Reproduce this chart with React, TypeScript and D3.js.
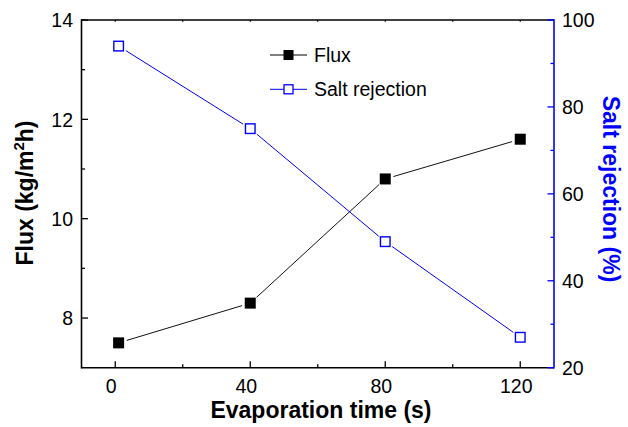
import React from "react";
import * as d3 from "d3";

const times = [1, 40, 80, 120];
const fluxValues = [7.5, 8.3, 10.8, 11.6];
const rejectionValues = [94, 75, 49, 27];
const xMajorTicks = [0, 40, 80, 120];
const xMinorTicks = [20, 60, 100];
const fluxMajorTicks = [8, 10, 12, 14];
const fluxMinorTicks = [9, 11, 13];
const rejMajorTicks = [20, 40, 60, 80, 100];
const rejMinorTicks = [30, 50, 70, 90];
const seriesNames = ["Flux", "Salt rejection"];

const W = 628;
const H = 427;
const L = 81.5;
const R = 554;
const T = 20;
const B = 367.7;
const BLUE = "#0000ff";
const FONT = "'Liberation Sans', Arial, Helvetica, sans-serif";

const x = d3.scaleLinear().domain([-10, 130]).range([L, R]);
const yL = d3.scaleLinear().domain([7, 14]).range([B, T]);
const yR = d3.scaleLinear().domain([20, 100]).range([B, T]);

function segments(pts: [number, number][], gap: number) {
  const out: string[] = [];
  for (let i = 0; i < pts.length - 1; i++) {
    const [x1, y1] = pts[i];
    const [x2, y2] = pts[i + 1];
    const dx = x2 - x1, dy = y2 - y1;
    const len = Math.hypot(dx, dy);
    const ux = dx / len, uy = dy / len;
    const a: [number, number] = [x1 + ux * gap, y1 + uy * gap];
    const b: [number, number] = [x2 - ux * gap, y2 - uy * gap];
    out.push(d3.line()([a, b]) as string);
  }
  return out;
}

export default function App() {
  const fluxPts: [number, number][] = times.map((t, i) => [x(t), yL(fluxValues[i])]);
  const rejPts: [number, number][] = times.map((t, i) => [x(t), yR(rejectionValues[i])]);
  const ms = 11;
  const major = 6.5;
  const minor = 3.5;
  const tickFs = 19.5;
  const titleFs = 23;

  return (
    <svg
      width={W}
      height={H}
      style={{ position: "absolute", left: 0, top: 0, background: "#fff" }}
      fontFamily={FONT}
    >
      <rect x={0} y={0} width={W} height={H} fill="#fff" />

      {/* data lines */}
      {segments(fluxPts, 8.5).map((d, i) => (
        <path key={"fl" + i} d={d} stroke="#111" strokeWidth={1} fill="none" />
      ))}
      {segments(rejPts, 8.5).map((d, i) => (
        <path key={"rl" + i} d={d} stroke={BLUE} strokeWidth={1} fill="none" />
      ))}

      {/* markers */}
      {fluxPts.map(([px, py], i) => (
        <rect key={"fm" + i} x={px - ms / 2} y={py - ms / 2} width={ms} height={ms} fill="#000" />
      ))}
      {rejPts.map(([px, py], i) => (
        <rect
          key={"rm" + i}
          x={px - (ms - 1.4) / 2}
          y={py - (ms - 1.4) / 2}
          width={ms - 1.4}
          height={ms - 1.4}
          fill="#fff"
          stroke={BLUE}
          strokeWidth={1.4}
        />
      ))}

      {/* frame */}
      <line x1={L} y1={T} x2={R} y2={T} stroke="#000" strokeWidth={1.6} />
      <line x1={L} y1={B} x2={R} y2={B} stroke="#000" strokeWidth={1.6} />
      <line x1={L} y1={T - 0.8} x2={L} y2={B + 0.8} stroke="#000" strokeWidth={1.6} />
      <line x1={R} y1={T - 0.8} x2={R} y2={B + 0.8} stroke={BLUE} strokeWidth={1.6} />

      {/* bottom ticks */}
      {xMajorTicks.map((t) => (
        <g key={"xb" + t}>
          <line x1={x(t)} x2={x(t)} y1={B} y2={B - major} stroke="#000" strokeWidth={1.3} />
          <line x1={x(t)} x2={x(t)} y1={T} y2={T + 1.8} stroke="#000" strokeWidth={1.2} />
          <text x={x(t) - 4} y={393} textAnchor="middle" fontSize={tickFs} fill="#000">
            {t}
          </text>
        </g>
      ))}
      {xMinorTicks.map((t) => (
        <g key={"xm" + t}>
          <line x1={x(t)} x2={x(t)} y1={B} y2={B - minor} stroke="#000" strokeWidth={1.3} />
          <line x1={x(t)} x2={x(t)} y1={T} y2={T + 1.8} stroke="#000" strokeWidth={1.2} />
        </g>
      ))}

      {/* left ticks */}
      {fluxMajorTicks.map((t) => (
        <g key={"yl" + t}>
          <line x1={L} x2={L + major} y1={yL(t)} y2={yL(t)} stroke="#000" strokeWidth={1.3} />
          <text x={73} y={yL(t) + 7.3} textAnchor="end" fontSize={tickFs} fill="#000">
            {t}
          </text>
        </g>
      ))}
      {fluxMinorTicks.map((t) => (
        <line key={"ylm" + t} x1={L} x2={L + minor} y1={yL(t)} y2={yL(t)} stroke="#000" strokeWidth={1.3} />
      ))}

      {/* right ticks */}
      {rejMajorTicks.map((t) => (
        <g key={"yr" + t}>
          <line x1={R} x2={R - major} y1={yR(t)} y2={yR(t)} stroke={BLUE} strokeWidth={1.3} />
          <text x={562} y={yR(t) + 7.3} textAnchor="start" fontSize={tickFs} fill="#000">
            {t}
          </text>
        </g>
      ))}
      {rejMinorTicks.map((t) => (
        <line key={"yrm" + t} x1={R} x2={R - minor} y1={yR(t)} y2={yR(t)} stroke={BLUE} strokeWidth={1.3} />
      ))}

      {/* axis titles */}
      <text x={321} y={418} textAnchor="middle" fontSize={titleFs} fontWeight="bold" fill="#000">
        Evaporation time (s)
      </text>
      <text
        transform={`translate(33.3,193) rotate(-90)`}
        textAnchor="middle"
        fontSize={titleFs}
        fontWeight="bold"
        fill="#000"
      >
        Flux (kg/m<tspan fontSize={titleFs * 0.65} dy={-9}>2</tspan>
        <tspan dy={9}>h)</tspan>
      </text>
      <text
        transform={`translate(603,189) rotate(90)`}
        textAnchor="middle"
        fontSize={titleFs}
        fontWeight="bold"
        fill={BLUE}
      >
        Salt rejection (%)
      </text>

      {/* legend */}
      <g>
        <line x1={270} x2={307} y1={55} y2={55} stroke="#000" strokeWidth={1} />
        <rect x={288.5 - 5} y={55 - 5} width={10} height={10} fill="#000" />
        <text x={314} y={55 + 7} fontSize={tickFs} fill="#000">
          {seriesNames[0]}
        </text>
        <line x1={270} x2={307} y1={89.3} y2={89.3} stroke={BLUE} strokeWidth={1} />
        <rect x={288.5 - 4.5} y={89.3 - 4.5} width={9} height={9} fill="#fff" stroke={BLUE} strokeWidth={1.3} />
        <text x={314} y={89.3 + 7} fontSize={tickFs} fill="#000">
          {seriesNames[1]}
        </text>
      </g>
    </svg>
  );
}
